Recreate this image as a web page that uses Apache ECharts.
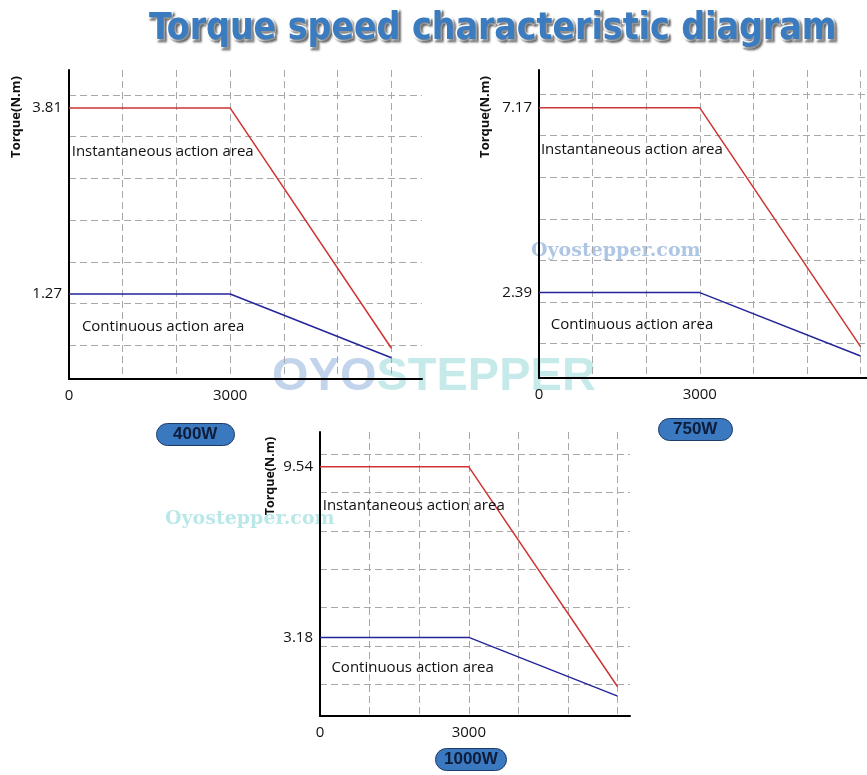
<!DOCTYPE html>
<html>
<head>
<meta charset="utf-8">
<title>Torque speed characteristic diagram</title>
<script src="https://cdn.jsdelivr.net/npm/echarts@6/dist/echarts.min.js"></script>
<style>
  html, body { margin: 0; padding: 0; background: #fff; }
  #main { width: 867px; height: 775px; }
</style>
</head>
<body>
<div id="main"></div>
<script>
// speed points (rpm) shared by every curve
var speed = [0, 3000, 6000];

// torque (N.m): peak = instantaneous, rated = continuous
var peak400 = [3.81, 3.81, 0.53];
var rated400 = [1.27, 1.27, 0.40];
var peak750 = [7.17, 7.17, 0.99];
var rated750 = [2.39, 2.39, 0.75];
var peak1000 = [9.54, 9.54, 1.34];
var rated1000 = [3.18, 3.18, 0.99];

// tick labels
var speedLabels = [0, 3000];
var torqueLabels400 = [1.27, 3.81];
var torqueLabels750 = [2.39, 7.17];
var torqueLabels1000 = [3.18, 9.54];

// dashed horizontal grid positions (value units)
var gridTicks400 = [0.57, 1.14, 1.71, 2.28, 2.85, 3.42, 3.99];
var gridTicks750 = [1.075, 2.15, 3.225, 4.3, 5.375, 6.45, 7.525];
var gridTicks1000 = [1.43, 2.86, 4.29, 5.72, 7.15, 8.58, 10.01];

var FONT = '"Open Sans", "Noto Sans", sans-serif';
var RED = '#cc3533';
var BLUE = '#25259a';

function pairs(xs, ys) {
  return xs.map(function (x, i) { return [x, ys[i]]; });
}

function xAxisFor(idx, max) {
  return {
    type: 'value', gridIndex: idx, min: 0, max: max, interval: 1000,
    axisLine: { show: true, onZero: false, lineStyle: { color: '#000', width: 2 } },
    axisTick: { show: false },
    axisLabel: { customValues: speedLabels, margin: 9, color: '#111', fontSize: 15, fontFamily: FONT,
      formatter: function (v) { return String(v); } },
    splitLine: { show: true, showMinLine: false, showMaxLine: false,
      lineStyle: { color: '#a8a8a8', type: [7, 4], width: 1 } }
  };
}

function yAxisFor(idx, min, max, labels, ticks) {
  return {
    type: 'value', gridIndex: idx, min: min, max: max,
    axisLine: { show: true, lineStyle: { color: '#000', width: 2 } },
    axisTick: { show: false, customValues: ticks },
    axisLabel: { customValues: labels, margin: 7, color: '#111', fontSize: 15, fontFamily: FONT },
    splitLine: { show: true, lineStyle: { color: '#a8a8a8', type: [7, 4], width: 1 } }
  };
}

function note(text, x, y) {
  return {
    coord: [x, y], symbol: 'circle', symbolSize: 0,
    label: { show: true, position: 'right', distance: 0, formatter: text,
      color: '#111', fontSize: 15, fontFamily: FONT }
  };
}

function curve(idx, data, color, notes) {
  return {
    type: 'line', xAxisIndex: idx, yAxisIndex: idx, data: data,
    symbol: 'none', silent: true,
    lineStyle: { color: color, width: 1.5 },
    markPoint: notes ? { silent: true, data: notes } : undefined
  };
}

function badge(text, left, top, padX) {
  return {
    text: text, left: left, top: top,
    padding: [3, padX, 3, padX],
    backgroundColor: '#3a78c0', borderColor: '#1d3b66', borderWidth: 1, borderRadius: 12,
    textStyle: { color: '#0d1d3a', fontSize: 17, fontWeight: 'bold', lineHeight: 17,
      fontFamily: '"Liberation Sans", Arial, sans-serif' }
  };
}

function axisName(x, y, size) {
  return {
    type: 'text', x: x, y: y, rotation: Math.PI / 2, silent: true,
    style: { text: 'Torque(N.m)', align: 'center', verticalAlign: 'middle',
      fill: '#111', fontSize: size, fontWeight: 'bold', fontFamily: FONT }
  };
}

var chart = echarts.init(document.getElementById('main'));
chart.setOption({
  animation: false,
  backgroundColor: '#fff',
  title: [
    {
      text: 'Torque speed characteristic diagram', left: 144, top: 6,
      textStyle: {
        color: '#3b7cc0', fontSize: 37, fontWeight: 'bold',
        fontFamily: '"DejaVu Sans Condensed", sans-serif',
        textBorderColor: '#fff', textBorderWidth: 3,
        textShadowColor: 'rgba(0,0,0,0.45)', textShadowBlur: 2,
        textShadowOffsetX: 2, textShadowOffsetY: 2
      }
    },
    badge('400W', 156, 423, 17),
    badge('750W', 658, 418, 15),
    badge('1000W', 435, 748, 9)
  ],
  grid: [
    { left: 69, top: 70, width: 353, height: 309 },
    { left: 539, top: 70, width: 328, height: 308 },
    { left: 320, top: 432, width: 310, height: 284 }
  ],
  xAxis: [xAxisFor(0, 6570), xAxisFor(1, 6120), xAxisFor(2, 6250)],
  yAxis: [
    yAxisFor(0, 0.11, 4.33, torqueLabels400, gridTicks400),
    yAxisFor(1, 0.18, 8.15, torqueLabels750, gridTicks750),
    yAxisFor(2, 0.25, 10.84, torqueLabels1000, gridTicks1000)
  ],
  graphic: [
    {
      type: 'text', left: 272, top: 354, z: -1, silent: true,
      style: {
        text: '{a|OYO}{b|STEPPER}', opacity: 0.55,
        rich: {
          a: { fill: '#8fb0dc', fontSize: 47, fontWeight: 'bold', fontFamily: '"Liberation Sans", sans-serif' },
          b: { fill: '#98d8d8', fontSize: 47, fontWeight: 'bold', fontFamily: '"Liberation Sans", sans-serif' }
        }
      }
    },
    {
      type: 'text', left: 531, top: 242, silent: true,
      style: { text: 'Oyostepper.com', fill: 'rgba(120,160,210,0.6)', fontSize: 19, fontWeight: 'bold',
        fontFamily: '"DejaVu Serif", serif' }
    },
    {
      type: 'text', left: 165, top: 510, silent: true,
      style: { text: 'Oyostepper.com', fill: 'rgba(140,215,215,0.6)', fontSize: 19, fontWeight: 'bold',
        fontFamily: '"DejaVu Serif", serif' }
    },
    axisName(16, 117, 13),
    axisName(485, 117, 13),
    axisName(270, 476, 12.5)
  ],
  series: [
    curve(0, pairs(speed, peak400), RED, [note('Instantaneous action area', 50, 3.22)]),
    curve(0, pairs(speed, rated400), BLUE, [note('Continuous action area', 240, 0.82)]),
    curve(1, pairs(speed, peak750), RED, [note('Instantaneous action area', 35, 6.08)]),
    curve(1, pairs(speed, rated750), BLUE, [note('Continuous action area', 220, 1.55)]),
    curve(2, pairs(speed, peak1000), RED, [note('Instantaneous action area', 55, 8.08)]),
    curve(2, pairs(speed, rated1000), BLUE, [note('Continuous action area', 230, 2.06)])
  ]
});
</script>
</body>
</html>
